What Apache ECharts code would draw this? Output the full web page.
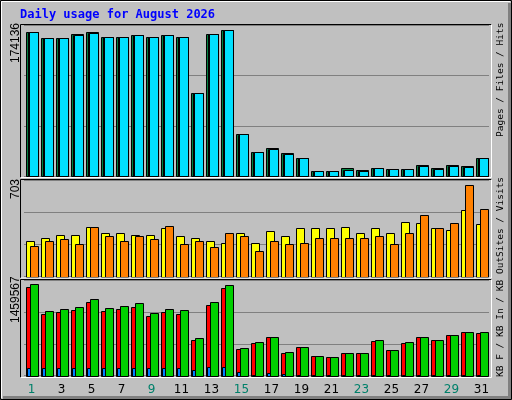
<!DOCTYPE html>
<html><head><meta charset="utf-8">
<script src="https://cdn.jsdelivr.net/npm/echarts@6/dist/echarts.min.js"></script>
<style>html,body{margin:0;padding:0;background:#c0c0c0}#c{width:512px;height:400px}</style>
</head><body><div id="c"></div>
<script>
const days = ['1','2','3','4','5','6','7','8','9','10','11','12','13','14','15','16','17','18','19','20','21','22','23','24','25','26','27','28','29','30','31'];
const weekendDays = ['1','2','8','9','15','16','22','23','29','30'];
const hits  = [170900,163800,163800,168900,170900,165000,165000,167400,165000,167400,165000,98500,168600,174136,49900,28500,33600,27700,21700,6300,6300,9900,7500,9900,8700,8700,13400,9900,13400,12200,21700];
const files = [170900,163800,163800,167400,169700,165000,165000,167400,165000,167400,165000,98500,168600,174100,49000,28500,32400,26500,21700,6300,6300,7500,6300,9900,8700,8700,12200,8700,12200,11000,21700];
const pages = [170900,163800,163800,167400,169700,165000,165000,167400,165000,167400,165000,98500,168600,174100,49900,28500,32400,26500,21700,6300,6300,7500,6300,9900,8700,8700,12200,8700,12200,11000,21700];
const visits = [269,299,322,322,383,337,330,322,322,368,307,299,276,261,337,261,352,314,375,368,375,383,337,375,337,421,413,375,360,512,406];
const sites  = [231,276,284,246,383,314,269,307,291,390,253,269,223,337,314,193,276,246,261,299,299,299,299,307,253,337,474,375,413,703,520];
const kbF   = [1411600,979900,1011900,1043900,1171800,1027900,1059900,1091800,948000,1011900,979900,564300,1123800,1395600,420400,516300,612300,356500,452400,308500,292500,356500,356500,548300,404400,516300,612300,564300,644200,692200,676200];
const kbIn  = [116700,116700,116700,116700,116700,116700,116700,116700,116700,116700,116700,84700,132700,132700,52800,16000,36800,24000,8000,8000,8000,8000,8000,8000,8000,8000,8000,8000,8000,8000,8000];
const kbOut = [1459567,1027900,1059900,1091800,1219700,1075900,1107800,1155800,995900,1059900,1043900,596300,1171800,1443500,436400,532300,612300,372500,452400,308500,292500,356500,356500,564300,404400,532300,612300,564300,644200,692200,692200];
const maxLabels = ['174136','703','1459567'];

const grids = [
  {left:24, right:23, top:25, height:151.3},
  {left:24, right:23, top:180, height:96.7},
  {left:24, right:23, top:280, height:95.7}
];
const ymax = [179600, 738, 1530000];

function barItem(o0, o1, color){
  return function(params, api){
    const c = api.coord([api.value(0), api.value(1)]);
    const b = api.coord([api.value(0), 0]);
    return {type:'rect', shape:{x:Math.round(c[0]+o0)+0.5, y:Math.round(c[1])+0.5, width:o1-o0, height:Math.round(b[1])-Math.round(c[1])},
      style:{fill:color, stroke:'#000', lineWidth:1}};
  };
}
function ser(arr, gi, o0, o1, color){
  return {type:'custom', xAxisIndex:gi, yAxisIndex:gi, renderItem:barItem(o0,o1,color),
    encode:{x:0,y:1}, data:arr.map((v,i)=>[i,v]), silent:true};
}

const xAxes = grids.map((g,i)=>({type:'category', gridIndex:i, data:days, boundaryGap:true,
  axisLine:{show:false}, axisTick:{show:false},
  axisLabel:{show:i===2, margin:8, fontFamily:'DejaVu Sans', fontSize:12,
    color:(v)=>weekendDays.includes(v)?'#00806a':'#000'}}));
const yAxes = grids.map((g,i)=>({type:'value', gridIndex:i, min:0, max:ymax[i], interval:ymax[i]/3,
  axisLine:{show:false}, axisTick:{show:false}, axisLabel:{show:false},
  splitLine:{lineStyle:{color:'#808080', width:1}}}));

function frame(g, top, h){
  const x0=20.5, x1=491.5, y0=top+0.5, y1=top+h;
  return [
    {type:'line', z:100, shape:{x1:x0,y1:y0,x2:x1,y2:y0}, style:{stroke:'#000',lineWidth:1}},
    {type:'line', z:100, shape:{x1:x0,y1:y0,x2:x0,y2:y1}, style:{stroke:'#000',lineWidth:1}},
    {type:'line', z:100, shape:{x1:x0,y1:y1,x2:x1,y2:y1}, style:{stroke:'#fff',lineWidth:1}},
    {type:'line', z:100, shape:{x1:x1,y1:y0,x2:x1,y2:y1}, style:{stroke:'#fff',lineWidth:1}}
  ];
}
function vtext(x, y, rich, str, font){
  return {type:'text', z:100, x:x, y:y, rotation:Math.PI/2,
    style:{text:str, rich:rich, align:'left', verticalAlign:'middle', font:font}};
}
const mono = '9.5px "DejaVu Sans Mono"';
const rs = (c)=>({color:c, fontFamily:'DejaVu Sans Mono', fontSize:9.5});

const graphics = [
  {type:'rect', z:-10, shape:{x:0.5,y:0.5,width:511,height:399}, style:{fill:'#c0c0c0', stroke:'#000', lineWidth:1}},
  {type:'polyline', z:99, shape:{points:[[1.5,398],[1.5,1.5],[510,1.5]]}, style:{stroke:'#fff', lineWidth:1, fill:null}},
  {type:'polyline', z:99, shape:{points:[[3,397.5],[509.5,397.5],[509.5,3]]}, style:{stroke:'#808080', lineWidth:3, fill:null}},
  {type:'text', z:100, x:20, y:15, style:{text:'Daily usage for August 2026', fill:'#0000ff', font:'bold 12px "DejaVu Sans Mono"', verticalAlign:'middle'}},
  ...frame(0, 24, 153.5), ...frame(1, 179, 99), ...frame(2, 279, 98.5),
  vtext(15.5, 63, {}, maxLabels[0], '12px "Liberation Sans"'),
  vtext(15.5, 199, {}, maxLabels[1], '12px "Liberation Sans"'),
  vtext(15.5, 323, {}, maxLabels[2], '12px "Liberation Sans"'),
  vtext(501, 137, {p:rs('#00e0ff'), s:rs('#404040'), f:rs('#0040ff'), h:rs('#008040')}, '{p|Pages}{s| / }{f|Files}{s| / }{h|Hits}', mono),
  vtext(501, 257, {st:rs('#ff8000'), s:rs('#404040'), v:rs('#e0e000')}, '{st|Sites}{s| / }{v|Visits}', mono),
  vtext(501, 377, {r:rs('#ff0000'), s:rs('#404040'), b:rs('#0080ff'), g:rs('#00c000')}, '{r|KB F}{s| / }{b|KB In}{s| / }{g|KB Out}', mono)
];

const chart = echarts.init(document.getElementById('c'), null, {renderer:'canvas'});
chart.setOption({
  backgroundColor:'#c0c0c0', animation:false,
  grid:grids, xAxis:xAxes, yAxis:yAxes,
  series:[
    ser(hits,0,-6,6,'#008040'), ser(files,0,-4,6,'#0040ff'), ser(pages,0,-3,6,'#00e0ff'),
    ser(visits,1,-6,2,'#ffff00'), ser(sites,1,-2,6,'#ff8000'),
    ser(kbF,2,-6,2,'#ff0000'), ser(kbIn,2,-5,-2,'#0080ff'), ser(kbOut,2,-2,6,'#00d000')
  ],
  graphic:graphics
});
</script></body></html>
